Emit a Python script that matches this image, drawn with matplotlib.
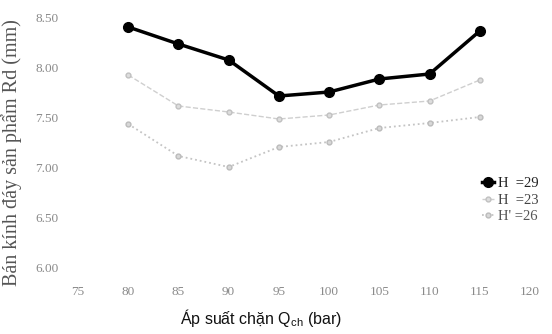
import numpy as np
import matplotlib
matplotlib.use("Agg")
import matplotlib.pyplot as plt

plt.rcParams['mathtext.fontset'] = 'custom'
plt.rcParams['mathtext.rm'] = 'Liberation Sans'

# ap suat chan (bar)
q = [80, 85, 90, 95, 100, 105, 110, 115]
h29 = [8.40, 8.23, 8.07, 7.71, 7.75, 7.88, 7.93, 8.36]
h23 = [7.92, 7.61, 7.55, 7.48, 7.52, 7.62, 7.66, 7.87]
h26 = [7.43, 7.11, 7.00, 7.20, 7.25, 7.39, 7.44, 7.50]
xticks = [75, 80, 85, 90, 95, 100, 105, 110, 115, 120]
yticks = [6.0, 6.5, 7.0, 7.5, 8.0, 8.5]

W, H = 552, 334
fig = plt.figure(figsize=(W/100, H/100), dpi=100)
x0, x1, ytop, ybot = 78, 530, 17, 267
ax = fig.add_axes([x0/W, 1-ybot/H, (x1-x0)/W, (ybot-ytop)/H])

ax.plot(q, h23, '--', color='#cfcfcf', lw=1.0, marker='o', ms=3.5,
        mfc='#dddddd', mec='#c0c0c0', label='H  =23')
ax.plot(q, h26, ':', color='#c4c4c4', lw=1.3, marker='o', ms=3.5,
        mfc='#d8d8d8', mec='#bbbbbb', label="H' =26")
ax.plot(q, h29, '-', color='black', lw=2.5, marker='o', ms=7,
        label='H  =29')

ax.set_xlim(75, 120)
ax.set_ylim(6.0, 8.5)
ax.set_xticks(xticks)
ax.set_yticks(yticks)
ax.set_xticklabels([str(v) for v in xticks])
ax.set_yticklabels(['%.2f' % v for v in yticks])
ax.tick_params(length=0, labelsize=9.5, colors='#8a8a8a', pad=14)
for lab in ax.get_xticklabels() + ax.get_yticklabels():
    lab.set_family('Liberation Serif')
for s in ax.spines.values():
    s.set_visible(False)

ax.set_ylabel('Bán kính đáy sản phẩm Rd (mm)', family='Liberation Serif',
              fontsize=14.5, color='#555555')
ax.yaxis.set_label_coords(-(x0-22)/(x1-x0), (ybot-153)/(ybot-ytop))
ax.set_xlabel('Áp suất chặn Q$_{\\mathrm{ch}}$ (bar)', family='Liberation Sans',
              fontsize=11.5, color='#111111')
ax.xaxis.set_label_coords((261-x0)/(x1-x0), -(307-ybot)/(ybot-ytop))

hs, ls = ax.get_legend_handles_labels()
order = [2, 0, 1]
leg = ax.legend([hs[i] for i in order], [ls[i] for i in order],
                loc='center left', bbox_to_anchor=((475-x0)/(x1-x0), (ybot-200)/(ybot-ytop)),
                frameon=False, handlelength=0.8, handletextpad=0.3,
                labelspacing=0.25, borderpad=0,
                prop={'family': 'Liberation Serif', 'size': 10.5})
for t, c in zip(leg.get_texts(), ['#222222', '#444444', '#555555']):
    t.set_color(c)

fig.savefig('out.png', dpi=100)
